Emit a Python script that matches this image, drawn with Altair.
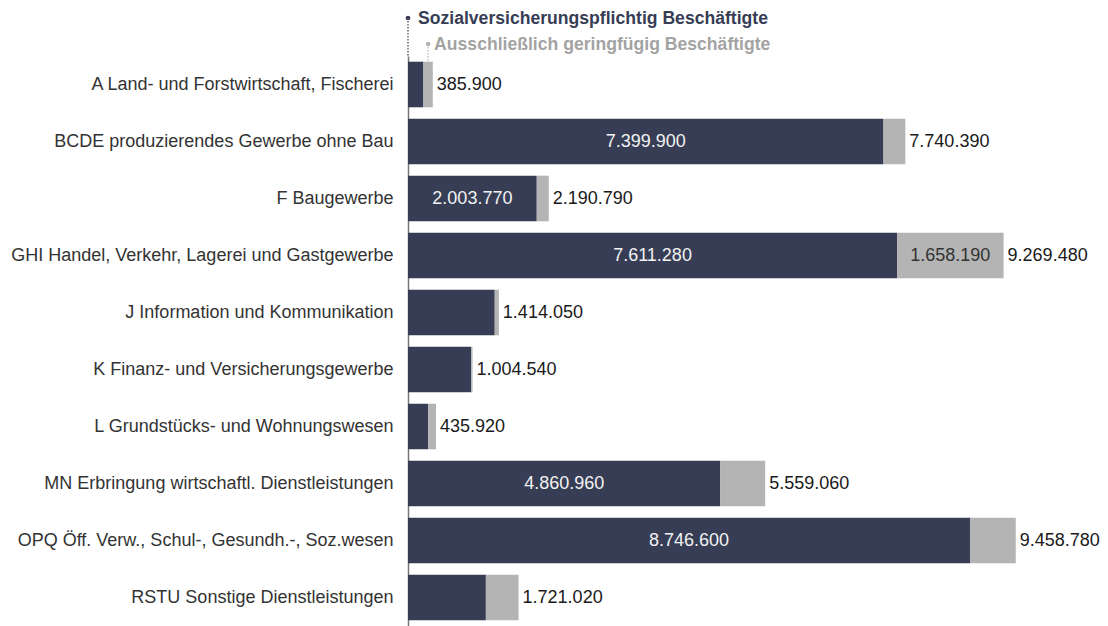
import altair as alt
import pandas as pd

categories = [
    "A Land- und Forstwirtschaft, Fischerei",
    "BCDE produzierendes Gewerbe ohne Bau",
    "F Baugewerbe",
    "GHI Handel, Verkehr, Lagerei und Gastgewerbe",
    "J Information und Kommunikation",
    "K Finanz- und Versicherungsgewerbe",
    "L Grundstücks- und Wohnungswesen",
    "MN Erbringung wirtschaftl. Dienstleistungen",
    "OPQ Öff. Verw., Schul-, Gesundh.-, Soz.wesen",
    "RSTU Sonstige Dienstleistungen",
]
sv_values = [240000, 7399900, 2003770, 7611280, 1350000, 985000, 313000, 4860960, 8746600, 1212000]
gb_values = [145900, 340490, 187020, 1658190, 64050, 19540, 122920, 698100, 712180, 509020]
totals = [385900, 7740390, 2190790, 9269480, 1414050, 1004540, 435920, 5559060, 9458780, 1721020]

series_names = ["Sozialversicherungspflichtig Beschäftigte", "Ausschließlich geringfügig Beschäftigte"]

DARK = "#363d55"
GRAY = "#b4b4b4"
FONT = "Liberation Sans"
FS = 18


def fmt(v):
    return f"{v:,}".replace(",", ".")


df = pd.DataFrame({"cat": categories, "sv": sv_values, "gb": gb_values, "total": totals})
df["sv_lbl"] = df["sv"].map(fmt)
df["gb_lbl"] = df["gb"].map(fmt)
df["tot_lbl"] = df["total"].map(fmt)

W, H = 692, 570
XMAX = 10770000

xscale = alt.Scale(domain=[0, XMAX], nice=False, zero=True)
y = alt.Y(
    "cat:N",
    sort=categories,
    title=None,
    scale=alt.Scale(paddingInner=0.2, paddingOuter=0.1),
    axis=alt.Axis(
        ticks=False,
        labelFont=FONT,
        labelFontSize=FS,
        labelColor="#333333",
        labelPadding=15,
        labelLimit=420,
        domainColor="#777777",
        domainWidth=1.5,
        grid=False,
    ),
)

base = alt.Chart(df).encode(y=y)

dark = base.mark_bar(color=DARK).encode(x=alt.X("sv:Q", scale=xscale, axis=None))
gray = base.mark_bar(color=GRAY).encode(x=alt.X("sv:Q"), x2="total:Q")

sv_text = (
    base.transform_filter("datum.sv >= 1800000")
    .transform_calculate(mid="datum.sv / 2")
    .mark_text(color="#f2f2f2", font=FONT, fontSize=FS)
    .encode(x="mid:Q", text="sv_lbl:N")
)
gb_text = (
    base.transform_filter("datum.gb >= 1000000")
    .transform_calculate(mid="datum.sv + datum.gb / 2")
    .mark_text(color="#333333", font=FONT, fontSize=FS)
    .encode(x="mid:Q", text="gb_lbl:N")
)
tot_text = base.mark_text(align="left", dx=4, color="#1a1a1a", font=FONT, fontSize=FS).encode(
    x="total:Q", text="tot_lbl:N"
)

# legend-style annotations attached to the first bar
first = alt.Chart(df).transform_filter(alt.datum.cat == categories[0])
ann = first.transform_calculate(
    zero="0", gmid="datum.sv + datum.gb / 2",
    n1="'" + series_names[0] + "'", n2="'" + series_names[1] + "'"
)
r1 = ann.mark_rule(color=DARK, strokeDash=[1.5, 1.5], strokeWidth=1.2).encode(
    x="zero:Q", y=alt.value(-38), y2=alt.value(0)
)
d1 = ann.mark_circle(color=DARK, opacity=1, size=22).encode(x="zero:Q", y=alt.value(-38))
t1 = ann.mark_text(
    align="left", baseline="middle", dx=10, color=DARK, font=FONT, fontSize=17.6, fontWeight="bold"
).encode(x="zero:Q", y=alt.value(-37), text="n1:N")

r2 = ann.mark_rule(color=GRAY, strokeDash=[1.5, 1.5], strokeWidth=1.2).encode(
    x="gmid:Q", y=alt.value(-12), y2=alt.value(6)
)
d2 = ann.mark_circle(color=GRAY, opacity=1, size=22).encode(x="gmid:Q", y=alt.value(-12))
t2 = ann.mark_text(
    align="left", baseline="middle", dx=6, color="#a3a3a3", font=FONT, fontSize=17.6, fontWeight="bold"
).encode(x="gmid:Q", y=alt.value(-11), text="n2:N")

chart = (
    alt.layer(dark, gray, sv_text, gb_text, tot_text, r1, r2, d1, d2, t1, t2)
    .properties(
        width=W,
        height=H,
        autosize=alt.AutoSizeParams(type="none"),
        padding={"left": 400, "top": 48, "right": 0, "bottom": 0},
    )
    .configure(background="white", view=alt.ViewConfig(stroke=None))
)

chart.save("out.html", embed_options={"renderer": "svg", "actions": False})
